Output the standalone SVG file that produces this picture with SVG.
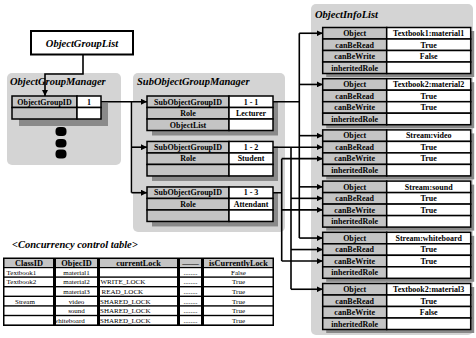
<svg xmlns="http://www.w3.org/2000/svg" width="476" height="338" viewBox="0 0 476 338">
<style>
.panel{fill:#d4d4d4}
.sh{fill:#8a8a8a}
.g{fill:#c4c4c4;stroke:#000;stroke-width:1.5}
.w{fill:#fff;stroke:#000;stroke-width:1.5}
.t{font-family:"Liberation Serif",serif;font-weight:bold;font-size:8px;text-anchor:middle;fill:#000}
.h{font-family:"Liberation Serif",serif;font-weight:bold;font-style:italic;font-size:10.5px;fill:#000}
.d{font-family:"Liberation Serif",serif;font-size:7px;fill:#000}
.dc{font-family:"Liberation Serif",serif;font-size:7px;fill:#000;text-anchor:middle}
.hc{font-family:"Liberation Serif",serif;font-weight:bold;font-size:8.3px;fill:#000;text-anchor:middle}
.ln{fill:none;stroke:#000;stroke-width:1.6}
.ar{fill:none;stroke:#000;stroke-width:1.6;marker-end:url(#ah)}
</style>
<defs>
<marker id="ah" markerUnits="userSpaceOnUse" markerWidth="6" markerHeight="6" refX="6" refY="3" orient="auto">
<path d="M0,0 L6,3 L0,6 z" fill="#000"/>
</marker>
</defs>
<rect width="476" height="338" fill="#fff"/>

<!-- panels -->
<g id="ObjectGroupManager">
<rect class="panel" x="7" y="73" width="114" height="92" rx="5"/>
<text class="h" x="10" y="85">ObjectGroupManager</text>
<rect class="sh" x="19" y="103" width="89" height="23"/>
<rect class="g" x="12" y="96" width="65" height="11.5"/>
<rect class="w" x="77" y="96" width="24" height="11.5"/>
<rect class="g" x="12" y="107.5" width="65" height="11.5"/>
<rect class="w" x="77" y="107.5" width="24" height="11.5"/>
<text class="t" x="44.5" y="104.5">ObjectGroupID</text>
<text class="t" x="89" y="104.5">1</text>
<rect x="55.5" y="127" width="11" height="9" rx="4"/>
<rect x="55.5" y="139" width="11" height="8.5" rx="4"/>
<rect x="55.5" y="149.5" width="11" height="9" rx="4"/>
</g>

<g id="ObjectGroupList">
<rect x="31" y="31" width="102" height="23.5" fill="#fff" stroke="#000" stroke-width="2"/>
<text class="h" x="82" y="47" text-anchor="middle">ObjectGroupList</text>
</g>

<g id="SubObjectGroupManager">
<rect class="panel" x="133" y="73" width="152" height="159" rx="5"/>
<text class="h" x="137" y="85">SubObjectGroupManager</text>
</g>

<g id="SubObjectGroup1">
<rect class="sh" x="152" y="101" width="126" height="34.5"/>
<rect class="g" x="147" y="96" width="82" height="11.5"/><rect class="w" x="229" y="96" width="44" height="11.5"/>
<rect class="g" x="147" y="107.5" width="82" height="11.5"/><rect class="w" x="229" y="107.5" width="44" height="11.5"/>
<rect class="g" x="147" y="119" width="82" height="11.5"/><rect class="w" x="229" y="119" width="44" height="11.5"/>
<text class="t" x="188" y="104.5">SubObjectGroupID</text><text class="t" x="251" y="104.5">1 - 1</text>
<text class="t" x="188" y="116">Role</text><text class="t" x="251" y="116">Lecturer</text>
<text class="t" x="188" y="127.5">ObjectList</text>
</g>

<g id="SubObjectGroup2">
<rect class="sh" x="152" y="146.45" width="126" height="34.5"/>
<rect class="g" x="147" y="141.45" width="82" height="11.5"/><rect class="w" x="229" y="141.45" width="44" height="11.5"/>
<rect class="g" x="147" y="152.95" width="82" height="11.5"/><rect class="w" x="229" y="152.95" width="44" height="11.5"/>
<rect class="g" x="147" y="164.45" width="82" height="11.5"/><rect class="w" x="229" y="164.45" width="44" height="11.5"/>
<text class="t" x="188" y="149.95">SubObjectGroupID</text><text class="t" x="251" y="149.95">1 - 2</text>
<text class="t" x="188" y="161.45">Role</text><text class="t" x="251" y="161.45">Student</text>
</g>

<g id="SubObjectGroup3">
<rect class="sh" x="152" y="191.95" width="126" height="34.5"/>
<rect class="g" x="147" y="186.95" width="82" height="11.5"/><rect class="w" x="229" y="186.95" width="44" height="11.5"/>
<rect class="g" x="147" y="198.45" width="82" height="11.5"/><rect class="w" x="229" y="198.45" width="44" height="11.5"/>
<rect class="g" x="147" y="209.95" width="82" height="11.5"/><rect class="w" x="229" y="209.95" width="44" height="11.5"/>
<text class="t" x="188" y="195.45">SubObjectGroupID</text><text class="t" x="251" y="195.45">1 - 3</text>
<text class="t" x="188" y="206.95">Role</text><text class="t" x="251" y="206.95">Attendant</text>
</g>

<g id="ObjectInfoList">
<rect class="panel" x="311" y="4" width="162" height="331" rx="5"/>
<text class="h" x="315" y="17.5">ObjectInfoList</text>
</g>

<g id="Info1">
<rect class="sh" x="326.2" y="31" width="148" height="46"/>
<rect class="g" x="322.7" y="27.5" width="64" height="11.5"/><rect class="w" x="386.7" y="27.5" width="84" height="11.5"/>
<rect class="g" x="322.7" y="39" width="64" height="11.5"/><rect class="w" x="386.7" y="39" width="84" height="11.5"/>
<rect class="g" x="322.7" y="50.5" width="64" height="11.5"/><rect class="w" x="386.7" y="50.5" width="84" height="11.5"/>
<rect class="g" x="322.7" y="62" width="64" height="11.5"/><rect class="w" x="386.7" y="62" width="84" height="11.5"/>
<text class="t" x="354.7" y="36">Object</text><text class="t" x="428.7" y="36">Textbook1:material1</text>
<text class="t" x="354.7" y="47.5">canBeRead</text><text class="t" x="428.7" y="47.5">True</text>
<text class="t" x="354.7" y="59">canBeWrite</text><text class="t" x="428.7" y="59">False</text>
<text class="t" x="354.7" y="70.5">inheritedRole</text>
</g>

<g id="Info2">
<rect class="sh" x="326.2" y="82.2" width="148" height="46"/>
<rect class="g" x="322.7" y="78.7" width="64" height="11.5"/><rect class="w" x="386.7" y="78.7" width="84" height="11.5"/>
<rect class="g" x="322.7" y="90.2" width="64" height="11.5"/><rect class="w" x="386.7" y="90.2" width="84" height="11.5"/>
<rect class="g" x="322.7" y="101.7" width="64" height="11.5"/><rect class="w" x="386.7" y="101.7" width="84" height="11.5"/>
<rect class="g" x="322.7" y="113.2" width="64" height="11.5"/><rect class="w" x="386.7" y="113.2" width="84" height="11.5"/>
<text class="t" x="354.7" y="87.2">Object</text><text class="t" x="428.7" y="87.2">Textbook2:material2</text>
<text class="t" x="354.7" y="98.7">canBeRead</text><text class="t" x="428.7" y="98.7">True</text>
<text class="t" x="354.7" y="110.2">canBeWrite</text><text class="t" x="428.7" y="110.2">True</text>
<text class="t" x="354.7" y="121.7">inheritedRole</text>
</g>

<g id="Info3">
<rect class="sh" x="326.2" y="133.4" width="148" height="46"/>
<rect class="g" x="322.7" y="129.9" width="64" height="11.5"/><rect class="w" x="386.7" y="129.9" width="84" height="11.5"/>
<rect class="g" x="322.7" y="141.4" width="64" height="11.5"/><rect class="w" x="386.7" y="141.4" width="84" height="11.5"/>
<rect class="g" x="322.7" y="152.9" width="64" height="11.5"/><rect class="w" x="386.7" y="152.9" width="84" height="11.5"/>
<rect class="g" x="322.7" y="164.4" width="64" height="11.5"/><rect class="w" x="386.7" y="164.4" width="84" height="11.5"/>
<text class="t" x="354.7" y="138.4">Object</text><text class="t" x="428.7" y="138.4">Stream:video</text>
<text class="t" x="354.7" y="149.9">canBeRead</text><text class="t" x="428.7" y="149.9">True</text>
<text class="t" x="354.7" y="161.4">canBeWrite</text><text class="t" x="428.7" y="161.4">True</text>
<text class="t" x="354.7" y="172.9">inheritedRole</text>
</g>

<g id="Info4">
<rect class="sh" x="326.2" y="184.6" width="148" height="46"/>
<rect class="g" x="322.7" y="181.1" width="64" height="11.5"/><rect class="w" x="386.7" y="181.1" width="84" height="11.5"/>
<rect class="g" x="322.7" y="192.6" width="64" height="11.5"/><rect class="w" x="386.7" y="192.6" width="84" height="11.5"/>
<rect class="g" x="322.7" y="204.1" width="64" height="11.5"/><rect class="w" x="386.7" y="204.1" width="84" height="11.5"/>
<rect class="g" x="322.7" y="215.6" width="64" height="11.5"/><rect class="w" x="386.7" y="215.6" width="84" height="11.5"/>
<text class="t" x="354.7" y="189.6">Object</text><text class="t" x="428.7" y="189.6">Stream:sound</text>
<text class="t" x="354.7" y="201.1">canBeRead</text><text class="t" x="428.7" y="201.1">True</text>
<text class="t" x="354.7" y="212.6">canBeWrite</text><text class="t" x="428.7" y="212.6">True</text>
<text class="t" x="354.7" y="224.1">inheritedRole</text>
</g>

<g id="Info5">
<rect class="sh" x="326.2" y="235.8" width="148" height="46"/>
<rect class="g" x="322.7" y="232.3" width="64" height="11.5"/><rect class="w" x="386.7" y="232.3" width="84" height="11.5"/>
<rect class="g" x="322.7" y="243.8" width="64" height="11.5"/><rect class="w" x="386.7" y="243.8" width="84" height="11.5"/>
<rect class="g" x="322.7" y="255.3" width="64" height="11.5"/><rect class="w" x="386.7" y="255.3" width="84" height="11.5"/>
<rect class="g" x="322.7" y="266.8" width="64" height="11.5"/><rect class="w" x="386.7" y="266.8" width="84" height="11.5"/>
<text class="t" x="354.7" y="240.8">Object</text><text class="t" x="428.7" y="240.8">Stream:whiteboard</text>
<text class="t" x="354.7" y="252.3">canBeRead</text><text class="t" x="428.7" y="252.3">True</text>
<text class="t" x="354.7" y="263.8">canBeWrite</text><text class="t" x="428.7" y="263.8">True</text>
<text class="t" x="354.7" y="275.3">inheritedRole</text>
</g>

<g id="Info6">
<rect class="sh" x="326.2" y="287" width="148" height="46"/>
<rect class="g" x="322.7" y="283.5" width="64" height="11.5"/><rect class="w" x="386.7" y="283.5" width="84" height="11.5"/>
<rect class="g" x="322.7" y="295" width="64" height="11.5"/><rect class="w" x="386.7" y="295" width="84" height="11.5"/>
<rect class="g" x="322.7" y="306.5" width="64" height="11.5"/><rect class="w" x="386.7" y="306.5" width="84" height="11.5"/>
<rect class="g" x="322.7" y="318" width="64" height="11.5"/><rect class="w" x="386.7" y="318" width="84" height="11.5"/>
<text class="t" x="354.7" y="292">Object</text><text class="t" x="428.7" y="292">Textbook2:material3</text>
<text class="t" x="354.7" y="303.5">canBeRead</text><text class="t" x="428.7" y="303.5">True</text>
<text class="t" x="354.7" y="315">canBeWrite</text><text class="t" x="428.7" y="315">False</text>
<text class="t" x="354.7" y="326.5">inheritedRole</text>
</g>

<g id="connectors">
<path class="ar" d="M83,54.5 V74 H45 V96"/>
<path class="ar" d="M101,101.75 H147"/>
<path class="ln" d="M131.5,101.75 V192.7"/>
<path class="ar" d="M131.5,147.2 H147"/>
<path class="ar" d="M131.5,192.7 H147"/>
<path class="ln" d="M273,101.75 H299.3 M299.3,33.25 V238.05"/>
<path class="ar" d="M299.3,33.25 H322.7"/>
<path class="ar" d="M299.3,84.45 H322.7"/>
<path class="ar" d="M299.3,135.65 H322.7"/>
<path class="ar" d="M299.3,186.85 H322.7"/>
<path class="ar" d="M299.3,238.05 H322.7"/>
<path class="ar" d="M273,147.2 H322.7"/>
<path class="ln" d="M291,147.2 V289.25"/>
<path class="ar" d="M291,198.35 H322.7"/>
<path class="ar" d="M291,249.55 H322.7"/>
<path class="ar" d="M291,289.25 H322.7"/>
<path class="ln" d="M273,192.7 H281.7 M281.7,158.65 V261.05"/>
<path class="ar" d="M281.7,158.65 H322.7"/>
<path class="ar" d="M281.7,209.85 H322.7"/>
<path class="ar" d="M281.7,261.05 H322.7"/>
</g>

<g id="ConcurrencyTable">
<text class="h" x="12" y="248" font-size="10">&lt;Concurrency control table&gt;</text>
<rect x="3" y="257.5" width="271" height="68.5" fill="#000"/>
<g fill="#c4c4c4">
<rect x="4.5" y="259" width="48.5" height="8"/>
<rect x="56" y="259" width="41" height="8"/>
<rect x="100" y="259" width="77" height="8"/>
<rect x="180" y="259" width="21" height="8"/>
<rect x="204" y="259" width="68.5" height="8"/>
</g>
<g fill="#fff">
<rect x="4.5" y="268.2" width="48.5" height="8.2"/><rect x="56" y="268.2" width="41" height="8.2"/><rect x="100" y="268.2" width="77" height="8.2"/><rect x="180" y="268.2" width="21" height="8.2"/><rect x="204" y="268.2" width="68.5" height="8.2"/>
<rect x="4.5" y="277.8" width="48.5" height="8.2"/><rect x="56" y="277.8" width="41" height="8.2"/><rect x="100" y="277.8" width="77" height="8.2"/><rect x="180" y="277.8" width="21" height="8.2"/><rect x="204" y="277.8" width="68.5" height="8.2"/>
<rect x="4.5" y="287.4" width="48.5" height="8.2"/><rect x="56" y="287.4" width="41" height="8.2"/><rect x="100" y="287.4" width="77" height="8.2"/><rect x="180" y="287.4" width="21" height="8.2"/><rect x="204" y="287.4" width="68.5" height="8.2"/>
<rect x="4.5" y="297" width="48.5" height="8.2"/><rect x="56" y="297" width="41" height="8.2"/><rect x="100" y="297" width="77" height="8.2"/><rect x="180" y="297" width="21" height="8.2"/><rect x="204" y="297" width="68.5" height="8.2"/>
<rect x="4.5" y="306.6" width="48.5" height="8.2"/><rect x="56" y="306.6" width="41" height="8.2"/><rect x="100" y="306.6" width="77" height="8.2"/><rect x="180" y="306.6" width="21" height="8.2"/><rect x="204" y="306.6" width="68.5" height="8.2"/>
<rect x="4.5" y="316.2" width="48.5" height="8.2"/><rect x="56" y="316.2" width="41" height="8.2"/><rect x="100" y="316.2" width="77" height="8.2"/><rect x="180" y="316.2" width="21" height="8.2"/><rect x="204" y="316.2" width="68.5" height="8.2"/>
</g>
<text class="hc" x="29" y="265.8">ClassID</text>
<text class="hc" x="76.5" y="265.8">ObjecID</text>
<text class="hc" x="138.5" y="265.8">currentLock</text>
<text class="hc" x="190.5" y="265.8">——</text>
<text class="hc" x="238.5" y="265.8">isCurrentlyLock</text>
<text class="d" x="6.5" y="274.7">Textbook1</text><text class="dc" x="76.5" y="274.7">material1</text><text class="dc" x="190.5" y="274.7">........</text><text class="dc" x="238.5" y="274.7">False</text>
<text class="d" x="6.5" y="284.3">Textbook2</text><text class="dc" x="76.5" y="284.3">material2</text><text class="d" x="100.5" y="284.3">WRITE_LOCK</text><text class="dc" x="190.5" y="284.3">........</text><text class="dc" x="238.5" y="284.3">True</text>
<text class="dc" x="76.5" y="293.9">material3</text><text class="d" x="101.5" y="293.9">READ_LOCK</text><text class="dc" x="190.5" y="293.9">........</text><text class="dc" x="238.5" y="293.9">True</text>
<text class="d" x="15" y="303.5">Stream</text><text class="dc" x="76.5" y="303.5">video</text><text class="d" x="100" y="303.5">SHARED_LOCK</text><text class="dc" x="190.5" y="303.5">........</text><text class="dc" x="238.5" y="303.5">True</text>
<text class="dc" x="76.5" y="313.1">sound</text><text class="d" x="100" y="313.1">SHARED_LOCK</text><text class="dc" x="190.5" y="313.1">........</text><text class="dc" x="238.5" y="313.1">True</text>
<text class="dc" x="69" y="322.7">whiteboard</text><text class="d" x="100" y="322.7">SHARED_LOCK</text><text class="dc" x="190.5" y="322.7">........</text><text class="dc" x="238.5" y="322.7">True</text>
</g>
</svg>
